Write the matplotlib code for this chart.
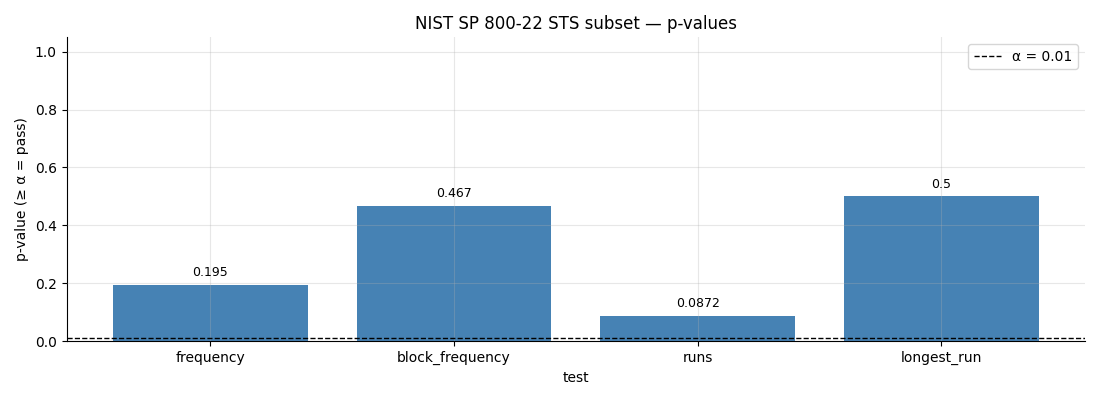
import matplotlib
matplotlib.use("Agg")
import matplotlib.pyplot as plt

tests = ["frequency", "block_frequency", "runs", "longest_run"]
pvalues = [0.195, 0.467, 0.0872, 0.5]
alpha = 0.01

fig, ax = plt.subplots(figsize=(11, 4), dpi=100)
bars = ax.bar(tests, pvalues, color="steelblue", width=0.8, zorder=1)
ax.grid(True, alpha=0.3, zorder=2)
ax.set_axisbelow(False)
ax.axhline(alpha, color="black", linestyle="--", linewidth=1, label=f"α = {alpha}", zorder=3)
for b, v in zip(bars, pvalues):
    ax.annotate(f"{v:g}", (b.get_x() + b.get_width() / 2, v), xytext=(0, 4),
                textcoords="offset points", ha="center", va="bottom", fontsize=9)
ax.set_ylim(0, 1.05)
ax.set_xlabel("test")
ax.set_ylabel("p-value (≥ α = pass)")
ax.set_title("NIST SP 800-22 STS subset — p-values")
ax.spines["top"].set_visible(False)
ax.spines["right"].set_visible(False)
ax.legend(loc="upper right")
fig.subplots_adjust(left=0.0605, right=0.9865, top=0.907, bottom=0.147)
fig.savefig("out.png")
